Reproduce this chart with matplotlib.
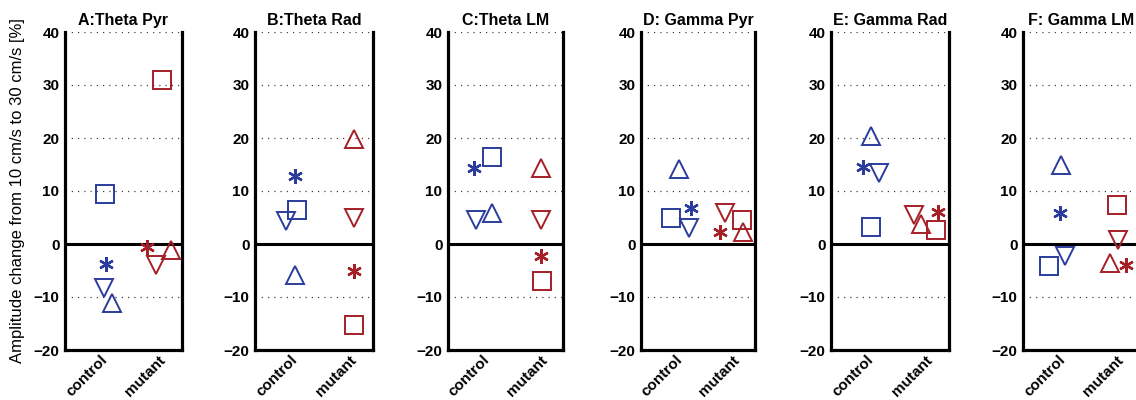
import matplotlib
matplotlib.use('Agg')
import matplotlib.pyplot as plt
import numpy as np

plt.rcParams['font.family'] = ['Liberation Sans', 'DejaVu Sans']

panels = ['A:Theta Pyr', 'B:Theta Rad', 'C:Theta LM',
          'D: Gamma Pyr', 'E: Gamma Rad', 'F: Gamma LM']
groups = ['control', 'mutant']

# amplitude change [%] per panel, one list per marker type
square_ctrl = [9.5, 6.5, 16.5, 4.9, 3.3, -4.2]
square_mut = [31.0, -15.2, -6.9, 4.6, 2.6, 7.3]
star_ctrl = [-3.8, 12.9, 14.3, 6.7, 14.6, 5.8]
star_mut = [-0.6, -5.0, -2.3, 2.3, 6.0, -3.9]
down_ctrl = [-8.3, 4.3, 4.6, 3.1, 13.4, -2.3]
down_mut = [-3.9, 4.9, 4.6, 5.8, 5.5, 0.8]
up_ctrl = [-11.2, -5.8, 5.8, 14.2, 20.4, 14.9]
up_mut = [-1.1, 19.8, 14.3, 2.3, 3.8, -3.6]

# jittered x positions (control = 1, mutant = 2)
square_ctrl_x = [1.09, 1.11, 1.16, 0.92, 1.08, 0.84]
square_mut_x = [2.05, 2.08, 2.03, 2.18, 2.18, 2.02]
star_ctrl_x = [1.10, 1.07, 0.85, 1.27, 0.94, 1.03]
star_mut_x = [1.80, 2.08, 2.01, 1.78, 2.21, 2.17]
down_ctrl_x = [1.07, 0.93, 0.88, 1.25, 1.21, 1.12]
down_mut_x = [1.96, 2.08, 2.01, 1.88, 1.80, 2.04]
up_ctrl_x = [1.20, 1.08, 1.17, 1.07, 1.08, 1.05]
up_mut_x = [2.22, 2.08, 2.01, 2.19, 1.92, 1.90]

blue = '#2b3c9c'
red = '#a51f27'

# marker, size, edge width, data
series = [
    ('s', 12.7, 1.4, square_ctrl_x, square_ctrl, square_mut_x, square_mut),
    ((6, 2, 0), 10.5, 1.7, star_ctrl_x, star_ctrl, star_mut_x, star_mut),
    ('v', 12.5, 1.4, down_ctrl_x, down_ctrl, down_mut_x, down_mut),
    ('^', 12.5, 1.4, up_ctrl_x, up_ctrl, up_mut_x, up_mut),
]

W, H = 1136, 400
lefts = [65, 255, 448, 641, 831, 1023]
widths = [117, 118, 115, 114, 118, 116]

fig = plt.figure(figsize=(W / 100, H / 100), dpi=100)

for i, title in enumerate(panels):
    ax = fig.add_axes([lefts[i] / W, 0.125, widths[i] / W, 0.795])
    ax.set_xlim(0.4, 2.4)
    ax.set_ylim(-20, 40)
    ax.set_yticks(np.arange(-20, 41, 10))
    ax.set_xticks([1, 2])
    ax.set_xticklabels(groups, rotation=45, ha='right',
                       rotation_mode='anchor', fontweight='bold', fontsize=11)
    for lab in ax.get_yticklabels():
        lab.set_fontweight('bold')
        lab.set_fontsize(11)
    ax.tick_params(axis='y', length=0, pad=4)
    ax.tick_params(axis='x', length=0, pad=2)
    ax.yaxis.grid(True, linestyle=(0, (1, 4)), color='#444444', linewidth=0.9)
    ax.set_axisbelow(True)
    ax.spines['top'].set_visible(False)
    for side in ['left', 'right', 'bottom']:
        ax.spines[side].set_linewidth(2.3)
    ax.axhline(0, color='black', linewidth=2.2, zorder=1)

    for marker, ms, mew, cx, cy, mx, my in series:
        ax.plot(cx[i], cy[i], linestyle='none', marker=marker, markersize=ms,
                markerfacecolor='none', markeredgecolor=blue,
                markeredgewidth=mew, zorder=3)
        ax.plot(mx[i], my[i], linestyle='none', marker=marker, markersize=ms,
                markerfacecolor='none', markeredgecolor=red,
                markeredgewidth=mew, zorder=3)

    ax.set_title(title, fontweight='bold', fontsize=11.5, pad=5)
    if i == 0:
        ax.set_ylabel('Amplitude change from 10 cm/s to 30 cm/s [%]',
                      fontsize=12, labelpad=6)

fig.savefig('out.png', dpi=100)
